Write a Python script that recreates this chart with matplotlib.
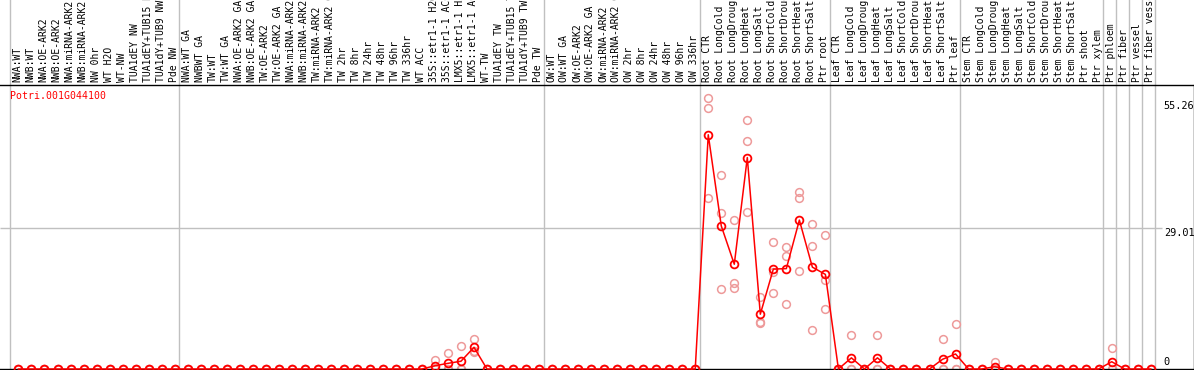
import matplotlib
matplotlib.use("Agg")
import matplotlib.pyplot as plt
import matplotlib.transforms as mtransforms

# ---------------- data ----------------
gene_id = "Potri.001G044100"

groups = [
    ["NWA:WT", "NWB:WT", "NWA:OE-ARK2", "NWB:OE-ARK2", "NWA:miRNA-ARK2", "NWB:miRNA-ARK2",
     "NW 0hr", "WT H2O", "WT-NW", "TUA1dEY NW", "TUA1dEY+TUB15 NW", "TUA1dY+TUB9 NW", "Pde NW"],
    ["NWA:WT GA", "NWBWT GA", "TW:WT", "TW:WT GA", "NWA:OE-ARK2 GA", "NWB:OE-ARK2 GA",
     "TW:OE-ARK2", "TW:OE-ARK2 GA", "NWA:miRNA-ARK2 GA", "NWB:miRNA-ARK2 GA", "TW:miRNA-ARK2",
     "TW:miRNA-ARK2 GA", "TW 2hr", "TW 8hr", "TW 24hr", "TW 48hr", "TW 96hr", "TW 336hr",
     "WT ACC", "35S::etr1-1 H2O", "35S::etr1-1 ACC", "LMX5::etr1-1 H2O", "LMX5::etr1-1 ACC",
     "WT-TW", "TUA1dEY TW", "TUA1dEY+TUB15 TW", "TUA1dY+TUB9 TW", "Pde TW"],
    ["OW:WT", "OW:WT GA", "OW:OE-ARK2", "OW:OE-ARK2 GA", "OW:miRNA-ARK2", "OW:miRNA-ARK2 GA",
     "OW 2hr", "OW 8hr", "OW 24hr", "OW 48hr", "OW 96hr", "OW 336hr"],
    ["Root CTR", "Root LongCold", "Root LongDrought", "Root LongHeat", "Root LongSalt",
     "Root ShortCold", "Root ShortDrought", "Root ShortHeat", "Root ShortSalt", "Ptr root"],
    ["Leaf CTR", "Leaf LongCold", "Leaf LongDrought", "Leaf LongHeat", "Leaf LongSalt",
     "Leaf ShortCold", "Leaf ShortDrought", "Leaf ShortHeat", "Leaf ShortSalt", "Ptr leaf"],
    ["Stem CTR", "Stem LongCold", "Stem LongDrought", "Stem LongHeat", "Stem LongSalt",
     "Stem ShortCold", "Stem ShortDrought", "Stem ShortHeat", "Stem ShortSalt", "Ptr shoot",
     "Ptr xylem"],
    ["Ptr phloem"],
    ["Ptr fiber"],
    ["Ptr vessel"],
    ["Ptr fiber vessel"],
]
labels = [s for g in groups for s in g]

# mean expression (88 samples)
means = ([0.0] * 13 +
         [0.0] * 19 + [0.67, 1.17, 1.6, 4.47] + [0.0] * 5 +
         [0.0] * 12 +
         [48.3, 29.5, 21.6, 43.6, 11.3, 20.6, 20.7, 30.7, 21.0, 19.5] +
         [0.0, 2.3, 0.0, 2.3, 0.0, 0.0, 0.0, 0.0, 2.0, 3.1] +
         [0.0, 0.0, 0.47, 0.0, 0.0, 0.0, 0.0, 0.0, 0.0, 0.0, 0.0] +
         [1.5, 0.0, 0.0, 0.0])

# replicate values
rep1 = ([0.0] * 13 +
        [0.0] * 19 + [1.9, 3.4, 4.8, 6.19] + [0.0] * 5 +
        [0.0] * 12 +
        [55.8, 40.0, 30.7, 51.3, 14.8, 26.1, 25.1, 36.4, 29.9, 27.6] +
        [0.0, 7.0, 0.0, 7.0, 0.0, 0.0, 0.0, 0.0, 6.2, 9.3] +
        [0.0, 0.0, 1.4, 0.0, 0.0, 0.0, 0.0, 0.0, 0.0, 0.0, 0.0] +
        [4.4, 0.0, 0.0, 0.0])
rep2 = ([0.0] * 13 +
        [0.0] * 19 + [0.1, 0.1, 0.0, 3.78] + [0.0] * 5 +
        [0.0] * 12 +
        [53.8, 32.1, 17.8, 47.0, 9.75, 15.6, 23.3, 35.3, 25.4, 18.4] +
        [0.0] * 10 +
        [0.0] * 11 +
        [0.0] * 4)
rep3 = ([0.0] * 13 +
        [0.0] * 19 + [0.0, 0.0, 0.0, 3.44] + [0.0] * 5 +
        [0.0] * 12 +
        [35.2, 16.4, 16.6, 32.3, 9.4, 20.1, 13.5, 20.3, 8.0, 12.3] +
        [0.0] * 10 +
        [0.0] * 11 +
        [0.0] * 4)

ytick_values = [55.26, 29.01, 0]
ytick_labels = ["55.26", "29.01", "0"]

# ---------------- figure ----------------
W, H = 1194, 370
fig = plt.figure(figsize=(W / 100, H / 100), dpi=100)
fig.patch.set_facecolor("white")

MONO = "DejaVu Sans Mono"
px_per_slot = 13.015
left_px = 10.0
ax_bottom_px = 369.0   # from top
ax_top_px = 85.0
px_per_unit = 4.85

ax = fig.add_axes([0, (H - ax_bottom_px) / H, 1193.5 / W, (ax_bottom_px - ax_top_px) / H])
ax.set_xlim(-left_px / px_per_slot, (1193.5 - left_px) / px_per_slot)
ax.set_ylim(0, (ax_bottom_px - ax_top_px) / px_per_unit)
ax.set_facecolor("white")
for side in ["top", "bottom", "right"]:
    ax.spines[side].set_color("black")
    ax.spines[side].set_linewidth(1.0)
ax.spines["left"].set_visible(False)
ax.set_xticks([])
ax.set_yticks([])

n = len(labels)
xs = [i + 0.65 for i in range(n)]

# group separators
bounds = [0]
for g in groups:
    bounds.append(bounds[-1] + len(g))
top_frac = 1 + ax_top_px / (ax_bottom_px - ax_top_px)
for b in bounds:
    ax.axvline(b, ymin=0, ymax=top_frac + 0.01, color="#c0c0c0", lw=1.0,
               clip_on=False, zorder=1)

# mid gridline
ax.hlines(ytick_values[1], ax.get_xlim()[0], 88.55, color="#c0c0c0", lw=1.0, zorder=1)

# replicates
pink = "#ee9a9a"
for rep in (rep1, rep2, rep3):
    ax.plot(xs, rep, linestyle="none", marker="o", ms=5.6, mfc="none", mec=pink,
            mew=1.1, clip_on=False, zorder=2)

# mean line and markers
ax.plot(xs, means, color="#ff0000", lw=1.1, marker="o", ms=5.6, mfc="none",
        mec="#ff0000", mew=1.3, clip_on=False, zorder=3)

# sample labels (header)
trans = mtransforms.blended_transform_factory(ax.transData, ax.transAxes)
lab_y = 1 + 3.0 / (ax_bottom_px - ax_top_px)
for i, lab in enumerate(labels):
    ax.text(i + 0.58, lab_y, lab, transform=trans, rotation=90, ha="center", va="bottom",
            fontsize=7.0, family=MONO, color="black", clip_on=False)

# gene id
ax.text(0.0085, 1 - 6.0 / (ax_bottom_px - ax_top_px), gene_id,
        transform=ax.transAxes, color="#ff0000", fontsize=7.1, family=MONO,
        ha="left", va="top")

# right value labels
for v, s in zip(ytick_values, ytick_labels):
    ax.text(88.65, v + (0.5 if v == 0 else 0), s, ha="left",
            va=("bottom" if v == 0 else "top"), fontsize=7.4, family=MONO,
            color="black")

fig.savefig("out.png", dpi=100, facecolor="white")
